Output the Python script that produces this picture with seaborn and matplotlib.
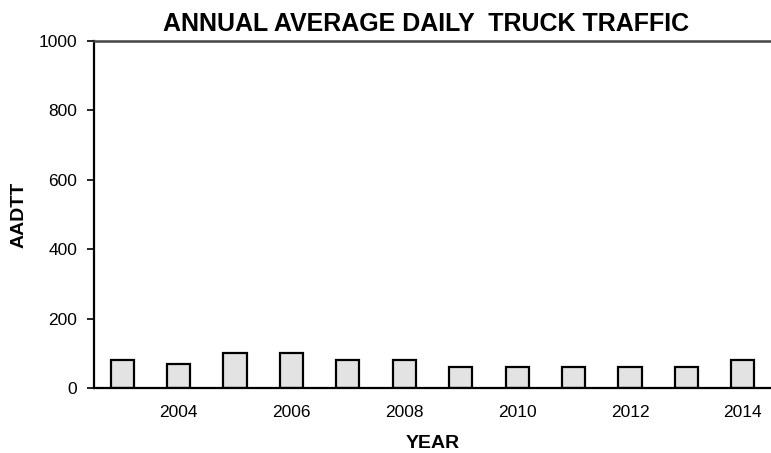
import matplotlib
matplotlib.use("Agg")
import matplotlib.pyplot as plt
import seaborn as sns
import pandas as pd
import numpy as np

years = [2003, 2004, 2005, 2006, 2007, 2008, 2009, 2010, 2011, 2012, 2013, 2014]
aadtt = [80, 70, 100, 100, 80, 80, 60, 60, 60, 60, 60, 80]
y_ticks = [0, 200, 400, 600, 800, 1000]

sns.set_style("white")
plt.rcParams['font.family'] = ['Liberation Sans', 'DejaVu Sans']
plt.rcParams['text.color'] = 'black'
plt.rcParams['axes.labelcolor'] = 'black'
plt.rcParams['xtick.color'] = 'black'
plt.rcParams['ytick.color'] = 'black'

df = pd.DataFrame({"year": [str(y) for y in years], "aadtt": aadtt})

fig = plt.figure(figsize=(7.71, 4.53), dpi=100)
ax = fig.add_axes([0.1219, 0.1435, 0.8781, 0.7665])

sns.barplot(data=df, x="year", y="aadtt", color="#e3e3e3", width=0.41,
            edgecolor="black", linewidth=1.6, saturation=1, ax=ax)

ax.set_xlim(-0.5, len(years) - 0.5)
ax.set_ylim(0, 1000)
ax.set_yticks(y_ticks)
ax.set_yticklabels([str(t) for t in y_ticks], fontsize=12.5)

# labels every other year at category centres, tick marks at category boundaries
ax.set_xticks(range(len(years)))
ax.set_xticklabels([str(y) if y % 2 == 0 else "" for y in years], fontsize=12.5)
ax.set_xticks(np.arange(-0.5, len(years), 1.0), minor=True)
ax.tick_params(axis="x", which="major", length=0, pad=12)
ax.tick_params(axis="x", which="minor", length=5, width=1.5, direction="out")
ax.tick_params(axis="y", length=5, width=1.2, direction="out", left=True, pad=7)

for side in ["left", "bottom"]:
    ax.spines[side].set_color("black")
    ax.spines[side].set_linewidth(1.6)
ax.spines["top"].set_color("#444444")
ax.spines["top"].set_linewidth(1.8)
ax.spines["right"].set_visible(False)

ax.set_xlabel("YEAR", fontsize=14, fontweight="bold", labelpad=11)
ax.set_ylabel("AADTT", fontsize=14, fontweight="bold", labelpad=8)
ax.set_title("ANNUAL AVERAGE DAILY  TRUCK TRAFFIC", fontsize=18, fontweight="bold",
             pad=7, x=0.49)

fig.savefig("out.png", dpi=100)
